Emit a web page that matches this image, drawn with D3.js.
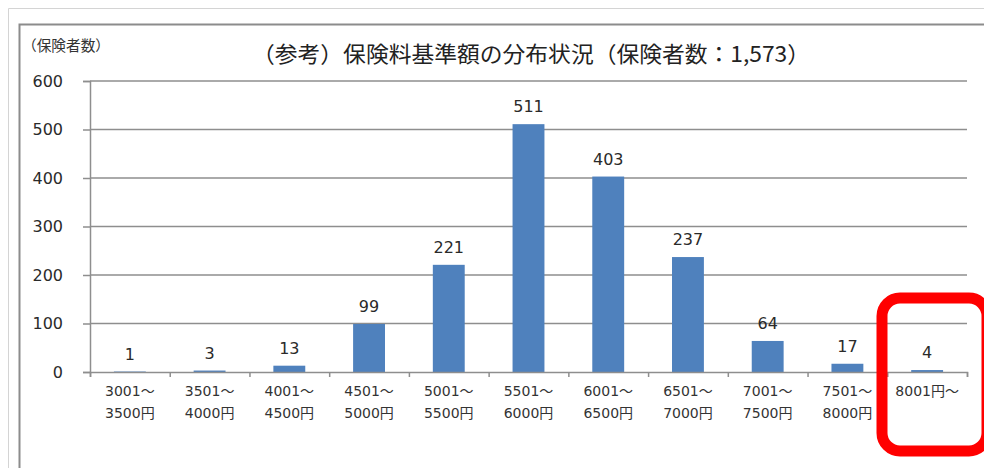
<!DOCTYPE html>
<html>
<head>
<meta charset="utf-8">
<script src="https://cdn.jsdelivr.net/npm/d3@7"></script>
<style>
  body { margin: 0; background: #fff; }
  svg { display: block; font-family: "Noto Sans CJK JP", "Noto Sans", sans-serif; }
  .num { font-family: "DejaVu Sans", "Noto Sans CJK JP", sans-serif; }
</style>
</head>
<body>
<div id="graph"></div>
<script>
const w = 984;
const h = 468;

// data
const rangeTop = ['3001～', '3501～', '4001～', '4501～', '5001～', '5501～', '6001～', '6501～', '7001～', '7501～', '8001円～'];
const rangeBottom = ['3500円', '4000円', '4500円', '5000円', '5500円', '6000円', '6500円', '7000円', '7500円', '8000円', ''];
const counts = [1, 3, 13, 99, 221, 511, 403, 237, 64, 17, 4];
const yTicks = [0, 100, 200, 300, 400, 500, 600];

const margin = { top: 81, right: 17, bottom: 96, left: 90 };

const svg = d3.select('#graph')
  .append('svg')
  .attr('width', w)
  .attr('height', h);

// outer page line + chart frame
svg.append('path')
  .attr('d', 'M8.5,' + h + ' V8.5 H' + w)
  .attr('fill', 'none')
  .attr('stroke', '#d4d4d4')
  .attr('stroke-width', 1);
svg.append('path')
  .attr('d', 'M19.5,' + h + ' V24.5 H' + w)
  .attr('fill', 'none')
  .attr('stroke', '#8c8c8c')
  .attr('stroke-width', 2);

const xScale = d3.scaleBand()
  .domain(d3.range(counts.length))
  .range([margin.left, w - margin.right])
  .paddingInner(0.6)
  .paddingOuter(0.3);

const yScale = d3.scaleLinear()
  .domain([0, 600])
  .range([h - margin.bottom, margin.top]);

// gridlines
svg.append('g')
  .selectAll('line')
  .data(yTicks.filter(d => d > 0))
  .enter()
  .append('line')
  .attr('x1', margin.left)
  .attr('x2', w - margin.right)
  .attr('y1', d => yScale(d))
  .attr('y2', d => yScale(d))
  .attr('stroke', '#8e8e8e')
  .attr('stroke-width', 1.5);

// y axis
const yAxis = d3.axisLeft(yScale)
  .tickValues(yTicks)
  .tickSize(7)
  .tickPadding(20);
const gy = svg.append('g')
  .attr('transform', 'translate(' + margin.left + ',0)')
  .call(yAxis);
gy.attr('font-family', null);
gy.select('.domain').attr('stroke', '#8e8e8e').attr('stroke-width', 1.5);
gy.selectAll('.tick line').attr('stroke', '#8e8e8e').attr('stroke-width', 1.5);
gy.selectAll('.tick text')
  .attr('class', 'num')
  .attr('fill', '#2a2a2a')
  .style('font-size', '16px');

// bars
svg.append('g')
  .selectAll('rect')
  .data(counts)
  .enter()
  .append('rect')
  .attr('x', (d, i) => xScale(i))
  .attr('y', d => yScale(d))
  .attr('width', xScale.bandwidth())
  .attr('height', d => yScale(0) - yScale(d))
  .attr('fill', '#4f81bd');

// value labels
svg.append('g')
  .selectAll('text')
  .data(counts)
  .enter()
  .append('text')
  .attr('class', 'num')
  .attr('x', (d, i) => xScale(i) + xScale.bandwidth() / 2)
  .attr('y', d => yScale(d) - 12)
  .attr('text-anchor', 'middle')
  .attr('fill', '#2a2a2a')
  .style('font-size', '16px')
  .text(d => d);

// x axis: ticks at category boundaries
const xEdge = d3.scaleLinear().domain([0, counts.length]).range([margin.left, w - margin.right]);
const gx = svg.append('g')
  .attr('transform', 'translate(0,' + yScale(0) + ')')
  .call(d3.axisBottom(xEdge).tickValues(d3.range(counts.length + 1)).tickSize(5).tickFormat(''));
gx.select('.domain').attr('stroke', '#8e8e8e').attr('stroke-width', 1.5);
gx.selectAll('.tick line').attr('stroke', '#8e8e8e').attr('stroke-width', 1.5);

const xl = svg.append('g')
  .selectAll('text')
  .data(counts)
  .enter()
  .append('text')
  .attr('class', 'num')
  .attr('text-anchor', 'middle')
  .attr('fill', '#333')
  .style('font-size', '14px');
xl.append('tspan')
  .attr('x', (d, i) => xScale(i) + xScale.bandwidth() / 2)
  .attr('y', yScale(0) + 24)
  .text((d, i) => rangeTop[i]);
xl.append('tspan')
  .attr('x', (d, i) => xScale(i) + xScale.bandwidth() / 2)
  .attr('y', yScale(0) + 46)
  .text((d, i) => rangeBottom[i]);

// titles
svg.append('text')
  .attr('x', 531)
  .attr('y', 62)
  .attr('text-anchor', 'middle')
  .attr('fill', '#222')
  .attr('textLength', 558)
  .attr('lengthAdjust', 'spacingAndGlyphs')
  .style('font-size', '22px')
  .text('（参考）保険料基準額の分布状況（保険者数：1,573）');

svg.append('text')
  .attr('x', 22)
  .attr('y', 51)
  .attr('fill', '#333')
  .attr('textLength', 88)
  .attr('lengthAdjust', 'spacingAndGlyphs')
  .style('font-size', '14.5px')
  .text('（保険者数）');

// red highlight around the last category
svg.append('rect')
  .attr('x', 882)
  .attr('y', 298)
  .attr('width', 105)
  .attr('height', 153)
  .attr('rx', 18)
  .attr('fill', 'none')
  .attr('stroke', '#ff0000')
  .attr('stroke-width', 11);
</script>
</body>
</html>
